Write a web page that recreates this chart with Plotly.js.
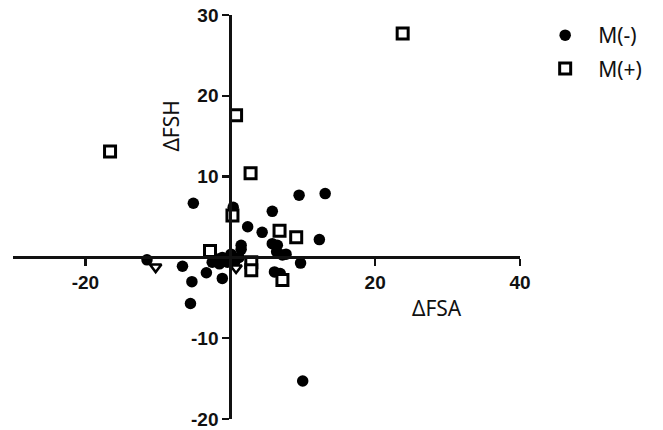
<!DOCTYPE html>
<html>
<head>
<meta charset="utf-8">
<script src="https://cdn.plot.ly/plotly-3.0.1.min.js"></script>
<style>html,body{margin:0;padding:0;background:#fff;}#chart{width:663px;height:430px;}</style>
</head>
<body>
<div id="chart"></div>
<script>
// M(-) series: filled circles
const mMinusX = [-5.1, 0.4, 2.4, 4.4, 5.8, 9.5, 13.1, 12.3, 6.5, 7.2, 7.7, 6.4, 9.7, 6.1, 6.9, -6.6, -5.3, -3.3, -1.1, -1.1, -0.4, 0.1, 1.5, 1.2, -1.9, -2.5, -1.5, -5.5, 10.0, -11.5, 1.5, 0.6, 5.8];
const mMinusY = [6.7, 6.2, 3.8, 3.1, 5.7, 7.7, 7.9, 2.2, 1.5, 0.3, 0.4, 0.7, -0.7, -1.8, -2.0, -1.1, -3.0, -1.9, -2.6, 0.0, -0.6, 0.4, 1.0, 0.0, -0.2, -0.6, -0.8, -5.7, -15.3, -0.3, 1.5, -0.6, 1.7];
// M(+) series: open squares
const mPlusX = [23.8, -16.6, 0.8, 2.8, 0.3, 6.8, 9.1, -2.8, 2.9, 2.9, 7.2];
const mPlusY = [27.7, 13.1, 17.6, 10.4, 5.2, 3.3, 2.5, 0.8, -0.6, -1.6, -2.8];
// unlabeled open triangles
const triX = [-10.3, 0.8];
const triY = [-1.2, -1.3];
// tick labels
const xTicks = [-20, 20, 40];
const yTicks = [-20, -10, 10, 20, 30];
const seriesNames = ["M(-)", "M(+)"];
const xTitle = "ΔFSA";
const yTitle = "ΔFSH";

const tickFont = {family: "Liberation Sans, Arial, sans-serif", size: 19, color: "#111", weight: 700};
const txtFont = {family: "Noto Sans, sans-serif", size: 21, color: "#111"};

const traces = [
  {x: mMinusX, y: mMinusY, type: "scatter", mode: "markers", name: seriesNames[0], legendgroup: "a",
   marker: {symbol: "circle", size: 11.5, color: "#000", line: {width: 0}}},
  {x: triX, y: triY, type: "scatter", mode: "markers", showlegend: false,
   marker: {symbol: "triangle-down", size: 10, color: "#fff", line: {width: 2.5, color: "#000"}}},
  {x: mPlusX, y: mPlusY, type: "scatter", mode: "markers", name: seriesNames[1], legendgroup: "b",
   marker: {symbol: "square", size: 11, color: "#fff", line: {width: 3, color: "#000"}}}
];

const layout = {
  width: 663, height: 430,
  margin: {l: 13, r: 143, t: 15, b: 11},
  paper_bgcolor: "#fff", plot_bgcolor: "#fff",
  showlegend: true,
  legend: {x: 1.024, y: 1.0, xanchor: "left", yanchor: "top", font: txtFont,
           itemwidth: 56, traceorder: "grouped", tracegroupgap: 3, bgcolor: "rgba(0,0,0,0)"},
  xaxis: {range: [-30, 40], anchor: "free", position: 0.4, showgrid: false, zeroline: false,
          showline: true, linewidth: 3, linecolor: "#111", ticks: "outside", ticklen: 7, tickwidth: 2.5,
          tickcolor: "#111", tickvals: xTicks, ticktext: xTicks.map(String), tickfont: tickFont,
          ticklabeloverflow: "allow"},
  yaxis: {range: [-20, 30], anchor: "free", position: 3/7, showgrid: false, zeroline: false,
          showline: true, linewidth: 3, linecolor: "#111", ticks: "outside", ticklen: 7, tickwidth: 2.5,
          tickcolor: "#111", tickvals: yTicks, ticktext: yTicks.map(String), tickfont: tickFont,
          ticklabeloverflow: "allow"},
  annotations: [
    {x: 28.6, y: -6.2, xref: "x", yref: "y", text: xTitle, showarrow: false, font: txtFont},
    {x: -8.2, y: 16.3, xref: "x", yref: "y", text: yTitle, showarrow: false, font: txtFont, textangle: -90}
  ]
};

Plotly.newPlot("chart", traces, layout, {displayModeBar: false, staticPlot: true});
</script>
</body>
</html>
